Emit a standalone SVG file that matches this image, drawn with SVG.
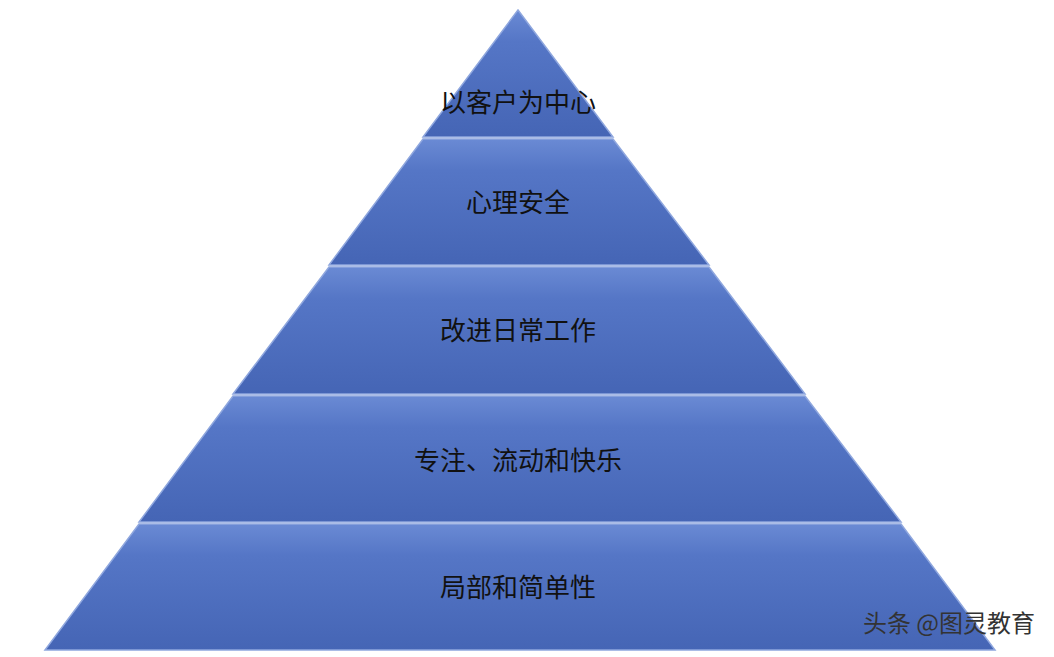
<svg xmlns="http://www.w3.org/2000/svg" width="1054" height="657" viewBox="0 0 1054 657">
<defs>
<linearGradient id="g" x1="0" y1="0" x2="0" y2="1">
<stop offset="0" stop-color="#6a8ad4"/>
<stop offset="0.25" stop-color="#5576c6"/>
<stop offset="1" stop-color="#4565b5"/>
</linearGradient>
<style>
.band{fill:url(#g);stroke:#8fa7de;stroke-width:1.5}
.t{font-family:"Noto Sans CJK SC","Liberation Sans",sans-serif;font-size:26px;fill:#111;text-anchor:middle}
</style>
</defs>
<rect width="1054" height="657" fill="#fff"/>
<g id="layer1"><polygon class="band" points="518,10 613,137 423,137"/><text class="t" x="518" y="112">以客户为中心</text></g>
<g id="layer2"><polygon class="band" points="423,139 613,139 709,265 329,265"/><text class="t" x="518" y="212">心理安全</text></g>
<g id="layer3"><polygon class="band" points="329,267 709,267 805,394 233,394"/><text class="t" x="518" y="340">改进日常工作</text></g>
<g id="layer4"><polygon class="band" points="233,396 805,396 901,522 139,522"/><text class="t" x="518" y="470">专注、流动和快乐</text></g>
<g id="layer5"><polygon class="band" points="139,524 901,524 995,650 45,650"/><text class="t" x="518" y="597">局部和简单性</text></g>
<g id="connectors"></g>
<text x="1035" y="632" style="font-family:'Noto Sans CJK SC',sans-serif;font-size:24px;fill:#333;text-anchor:end">头条 @图灵教育</text>
</svg>
